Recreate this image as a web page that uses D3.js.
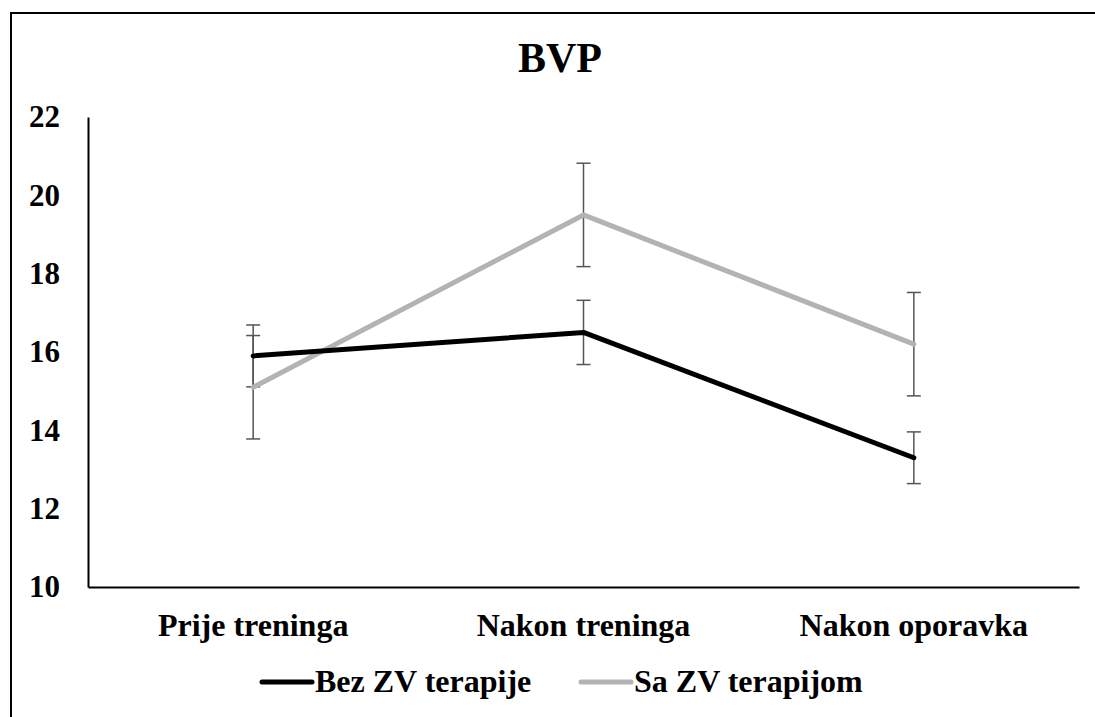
<!DOCTYPE html>
<html>
<head>
<meta charset="utf-8">
<script src="https://cdn.jsdelivr.net/npm/d3@7"></script>
<style>
  body { margin: 0; background: #fff; }
  svg text { font-family: "Liberation Serif", "Times New Roman", serif; font-weight: bold; fill: #000; }
</style>
</head>
<body>
<div id="chart"></div>
<script>
// data
const categories = ["Prije treninga", "Nakon treninga", "Nakon oporavka"];
const seriesNames = ["Bez ZV terapije", "Sa ZV terapijom"];
const bezValues = [15.9, 16.5, 13.3];
const bezErrors = [0.79, 0.82, 0.66];
const saValues = [15.1, 19.5, 16.2];
const saErrors = [1.32, 1.32, 1.32];
const yTicks = [10, 12, 14, 16, 18, 20, 22];

const W = 1095, H = 717;
const colors = ["#000000", "#b3b3b3"];
const serif = "'Liberation Serif', 'Times New Roman', serif";

const svg = d3.select("#chart").append("svg")
    .attr("width", W)
    .attr("height", H);

// outer frame (runs off the right and bottom of the picture)
svg.append("rect")
    .attr("x", 11).attr("y", 13)
    .attr("width", W).attr("height", H)
    .attr("fill", "none")
    .attr("stroke", "#000")
    .attr("stroke-width", 2);

svg.append("text")
    .attr("x", 560).attr("y", 72)
    .attr("text-anchor", "middle")
    .style("font-size", "42px")
    .text("BVP");

const x = d3.scaleBand().domain(categories).range([88, 1079]);
const y = d3.scaleLinear().domain([10, 22]).range([587, 117]);

// y axis
const yAxis = svg.append("g")
    .attr("transform", "translate(88,0)")
    .call(d3.axisLeft(y).tickValues(yTicks).tickSize(0).tickPadding(28));
yAxis.select(".domain").attr("stroke", "#000").attr("stroke-width", 2);
yAxis.selectAll("text")
    .style("font-family", serif)
    .style("font-weight", "bold")
    .style("font-size", "31px");

// x axis
const xAxis = svg.append("g")
    .attr("transform", "translate(0,587)")
    .call(d3.axisBottom(x).tickSize(0).tickPadding(26));
xAxis.select(".domain").attr("stroke", "#000").attr("stroke-width", 2);
xAxis.selectAll("text")
    .style("font-family", serif)
    .style("font-weight", "bold")
    .style("font-size", "32px");

const cx = c => x(c) + x.bandwidth() / 2;

const series = [
    {name: seriesNames[0], values: bezValues, errors: bezErrors, color: colors[0]},
    {name: seriesNames[1], values: saValues, errors: saErrors, color: colors[1]}
];

// error bars
series.forEach(function (s) {
    const g = svg.append("g").attr("stroke", "#555").attr("stroke-width", 1.5);
    categories.forEach(function (c, i) {
        const hi = y(s.values[i] + s.errors[i]);
        const lo = y(s.values[i] - s.errors[i]);
        g.append("line").attr("x1", cx(c)).attr("x2", cx(c)).attr("y1", hi).attr("y2", lo);
        g.append("line").attr("x1", cx(c) - 7).attr("x2", cx(c) + 7).attr("y1", hi).attr("y2", hi);
        g.append("line").attr("x1", cx(c) - 7).attr("x2", cx(c) + 7).attr("y1", lo).attr("y2", lo);
    });
});

// lines
const line = d3.line()
    .x((d, i) => cx(categories[i]))
    .y(d => y(d));

series.slice().reverse().forEach(function (s) {
    svg.append("path")
        .datum(s.values)
        .attr("d", line)
        .attr("fill", "none")
        .attr("stroke", s.color)
        .attr("stroke-width", 5)
        .attr("stroke-linecap", "round")
        .attr("stroke-linejoin", "round");
});

// legend
const legendX = [262, 581];
series.forEach(function (s, i) {
    const g = svg.append("g").attr("transform", "translate(" + legendX[i] + ",682)");
    g.append("line")
        .attr("x1", 0).attr("x2", 50)
        .attr("stroke", s.color)
        .attr("stroke-width", 5)
        .attr("stroke-linecap", "round");
    g.append("text")
        .attr("x", 53).attr("y", 10)
        .style("font-family", serif)
        .style("font-size", "32px")
        .text(s.name);
});
</script>
</body>
</html>
